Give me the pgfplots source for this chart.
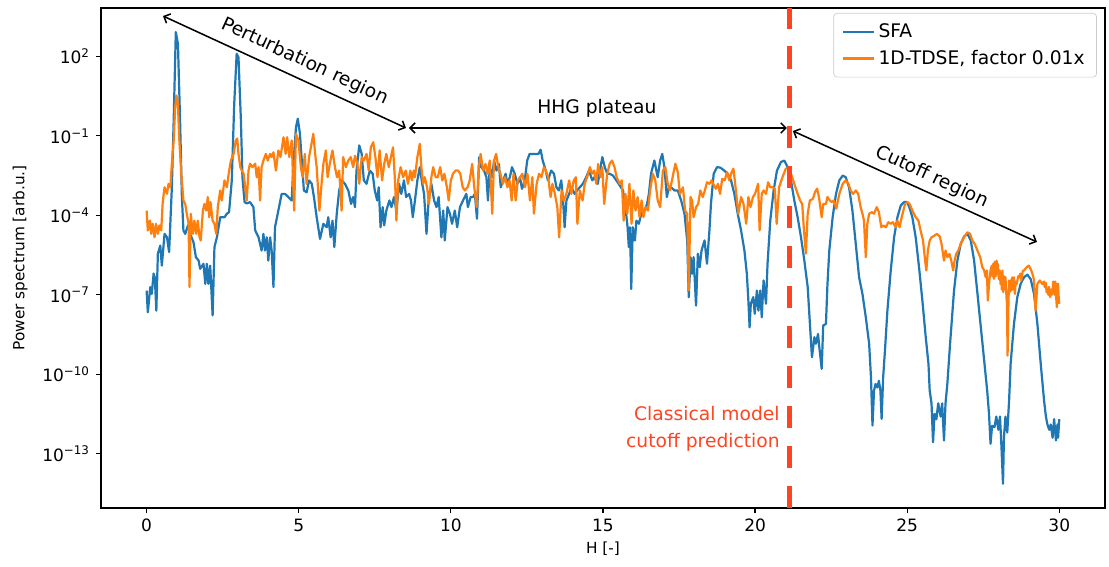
\documentclass[border=0pt]{standalone}
\usepackage{fontspec}
\setmainfont{DejaVu Sans}
\usepackage{pgfplots}
\pgfplotsset{compat=1.18}
\usepackage{pgfplotstable}
\usetikzlibrary{arrows.meta}
\definecolor{mplblue}{HTML}{1F77B4}
\definecolor{mplorange}{HTML}{FF7F0E}
\definecolor{cutred}{HTML}{FF4422}

% columns: x = harmonic order H, l = log10(power spectrum)
\pgfplotstableread{
x l
0.00 -6.84
0.04 -7.66
0.12 -6.71
0.17 -6.97
0.23 -6.2
0.27 -6.35
0.32 -7.6
0.37 -5.45
0.45 -5.14
0.50 -5.9
0.59 -4.7
0.67 -4.83
0.74 -5.39
0.83 -2.94
0.89 -0.42
0.96 2.92
1.03 2.48
1.10 -0.42
1.16 -3.31
1.21 -4.57
1.27 -4.7
1.36 -4.38
1.43 -4.7
1.54 -5.01
1.62 -5.58
1.71 -5.71
1.76 -6.02
1.87 -5.83
1.93 -6.59
1.98 -5.83
2.03 -6.59
2.09 -5.9
2.17 -7.78
2.23 -5.2
2.31 -4.83
2.42 -4.07
2.56 -4.07
2.64 -3.94
2.71 -3.88
2.80 -2.68
2.88 0.21
2.96 2.1
3.02 1.97
3.10 -0.42
3.15 -2.56
3.22 -3.5
3.29 -3.55
3.40 -3.5
3.51 -3.69
3.57 -4.57
3.68 -4.83
3.78 -5.33
3.84 -4.7
3.89 -5.33
3.95 -4.83
4.00 -5.71
4.06 -4.83
4.11 -5.33
4.17 -6.71
4.22 -4.45
4.33 -3.82
4.44 -3.19
4.55 -3.19
4.66 -3.31
4.77 -3.44
4.82 -2.18
4.91 -0.67
4.97 -0.35
5.04 -0.92
5.10 -1.93
5.17 -3.06
5.26 -3.13
5.34 -2.68
5.43 -2.81
5.50 -3.31
5.59 -4.07
5.70 -4.89
5.81 -4.32
5.92 -4.45
5.97 -4.07
6.05 -4.83
6.11 -4.2
6.17 -5.2
6.25 -3.94
6.33 -3.06
6.41 -2.68
6.52 -2.81
6.63 -3.06
6.72 -3.57
6.79 -3.31
6.85 -3.69
6.90 -2.31
6.99 -1.36
7.07 -1.68
7.14 -2.68
7.23 -2.81
7.28 -2.56
7.34 -2.31
7.43 -2.43
7.50 -3.06
7.58 -3.44
7.63 -2.94
7.69 -4.45
7.76 -3.69
7.81 -4.38
7.88 -3.82
7.98 -3.44
8.05 -3.69
8.13 -3.31
8.21 -3.82
8.30 -2.81
8.37 -3.19
8.46 -2.68
8.53 -3.31
8.63 -3.19
8.69 -3.44
8.75 -4.07
8.82 -3.44
8.90 -2.68
8.98 -2.18
9.06 -2.81
9.12 -3.19
9.20 -4.7
9.27 -3.44
9.36 -2.81
9.45 -3.44
9.53 -3.69
9.60 -3.31
9.69 -4.83
9.75 -3.82
9.80 -4.95
9.89 -3.69
9.97 -3.94
10.04 -4.32
10.13 -3.82
10.21 -4.45
10.30 -3.69
10.40 -3.44
10.51 -3.19
10.56 -3.69
10.65 -3.31
10.73 -3.31
10.79 -3.19
10.86 -4.13
10.93 -1.8
11.00 -2.18
11.09 -2.31
11.17 -2.56
11.22 -3.44
11.28 -2.18
11.36 -2.56
11.42 -1.93
11.50 -2.31
11.58 -2.06
11.64 -2.94
11.72 -2.68
11.80 -2.43
11.86 -2.81
11.94 -2.56
12.01 -2.18
12.10 -2.43
12.19 -2.81
12.27 -2.56
12.34 -3.0
12.43 -2.68
12.51 -1.93
12.59 -1.68
12.70 -1.68
12.80 -1.68
12.88 -1.68
12.95 -1.52
13.02 -1.93
13.12 -2.31
13.19 -2.68
13.30 -2.31
13.39 -2.43
13.47 -2.94
13.55 -3.06
13.63 -2.68
13.69 -3.44
13.74 -4.45
13.80 -3.44
13.89 -3.19
13.96 -2.94
14.07 -3.19
14.15 -3.06
14.24 -2.94
14.34 -2.81
14.45 -2.56
14.54 -2.31
14.65 -2.68
14.72 -2.56
14.83 -2.81
14.92 -2.18
14.98 -1.8
15.06 -2.18
15.14 -2.43
15.22 -2.43
15.33 -2.5
15.44 -2.68
15.55 -2.87
15.66 -3.06
15.75 -3.82
15.81 -4.45
15.85 -5.2
15.89 -4.45
15.93 -6.78
15.98 -4.45
16.05 -4.95
16.10 -4.2
16.18 -4.32
16.26 -3.94
16.37 -3.82
16.45 -3.57
16.51 -3.19
16.58 -2.43
16.69 -1.93
16.80 -2.56
16.88 -1.93
16.95 -1.68
17.02 -2.18
17.10 -3.31
17.17 -2.94
17.24 -2.94
17.35 -3.06
17.46 -3.06
17.57 -3.44
17.68 -3.94
17.77 -4.95
17.82 -7.09
17.88 -5.58
17.93 -6.21
17.98 -5.58
18.06 -7.41
18.12 -5.45
18.18 -5.96
18.24 -5.33
18.34 -4.95
18.42 -5.83
18.50 -4.57
18.55 -3.57
18.64 -2.43
18.75 -2.18
18.86 -2.2
18.99 -2.31
19.10 -2.43
19.21 -2.68
19.32 -3.19
19.43 -3.94
19.54 -4.57
19.65 -5.33
19.73 -6.21
19.78 -7.22
19.82 -8.23
19.86 -7.34
19.94 -7.09
19.99 -7.72
20.06 -6.84
20.11 -7.6
20.17 -6.84
20.22 -7.85
20.28 -6.46
20.36 -7.34
20.41 -5.83
20.50 -4.2
20.61 -3.06
20.72 -2.31
20.85 -1.99
20.96 -1.93
21.07 -2.18
21.18 -2.68
21.29 -3.44
21.40 -4.07
21.51 -4.83
21.62 -5.71
21.73 -6.71
21.81 -8.23
21.87 -9.36
21.95 -8.6
22.00 -8.85
22.07 -8.48
22.10 -8.85
22.19 -9.8
22.24 -8.16
22.33 -8.1
22.38 -6.59
22.44 -5.33
22.55 -4.07
22.66 -3.19
22.77 -2.68
22.88 -2.5
22.98 -2.56
23.09 -2.94
23.20 -3.82
23.31 -5.08
23.42 -6.34
23.53 -6.97
23.64 -7.85
23.75 -8.85
23.81 -10.12
23.86 -11.94
23.91 -10.62
23.96 -10.37
24.02 -10.5
24.07 -10.25
24.12 -10.62
24.16 -11.69
24.21 -10.12
24.27 -9.1
24.35 -7.6
24.46 -6.08
24.57 -4.83
24.68 -4.07
24.79 -3.63
24.90 -3.5
25.00 -3.5
25.07 -3.69
25.17 -4.07
25.28 -4.83
25.39 -5.96
25.50 -7.22
25.61 -8.6
25.70 -9.61
25.74 -10.62
25.80 -11.1
25.85 -12.57
25.90 -11.5
25.96 -11.7
26.02 -11.1
26.10 -11.6
26.15 -11.1
26.21 -12.5
26.26 -11.1
26.32 -10.37
26.41 -8.85
26.54 -6.84
26.65 -5.71
26.76 -5.08
26.87 -4.8
26.98 -4.7
27.09 -4.95
27.20 -5.71
27.30 -6.84
27.41 -8.1
27.52 -9.36
27.63 -10.62
27.69 -11.5
27.74 -12.63
27.79 -11.95
27.87 -12.0
27.93 -11.6
28.00 -12.1
28.05 -11.6
28.09 -12.5
28.15 -14.14
28.18 -12.4
28.23 -11.6
28.29 -12.2
28.35 -11.0
28.40 -9.61
28.51 -8.1
28.62 -7.09
28.73 -6.59
28.84 -6.34
28.95 -6.24
29.06 -6.41
29.17 -6.97
29.28 -8.1
29.39 -9.61
29.50 -11.0
29.56 -11.6
29.61 -11.9
29.67 -12.1
29.72 -11.9
29.78 -12.4
29.83 -11.7
29.89 -12.5
29.94 -11.9
29.96 -12.4
30.00 -11.7
}\sfa

\pgfplotstableread{
x l
0.00 -3.82
0.04 -4.57
0.11 -4.2
0.15 -4.7
0.20 -4.32
0.26 -4.83
0.31 -4.32
0.37 -4.7
0.42 -4.38
0.48 -4.57
0.53 -3.5
0.59 -2.94
0.67 -3.19
0.72 -2.81
0.78 -2.94
0.83 -2.05
0.89 -1.17
0.94 0.09
0.98 0.53
1.03 0.21
1.07 -1.05
1.14 -2.43
1.21 -3.44
1.27 -3.57
1.32 -3.94
1.38 -4.32
1.41 -6.71
1.45 -3.94
1.52 -4.7
1.57 -4.2
1.63 -4.7
1.68 -4.2
1.74 -4.83
1.78 -4.95
1.85 -3.82
1.90 -3.57
1.96 -3.82
2.01 -3.31
2.06 -4.07
2.10 -3.5
2.17 -4.2
2.23 -4.32
2.29 -4.7
2.34 -3.69
2.42 -3.06
2.47 -3.44
2.56 -2.68
2.64 -2.94
2.69 -2.49
2.77 -1.93
2.86 -1.68
2.93 -1.17
2.98 -1.1
3.02 -1.68
3.08 -2.18
3.13 -2.31
3.19 -2.43
3.24 -2.94
3.29 -3.44
3.35 -2.31
3.40 -2.05
3.48 -2.18
3.57 -2.05
3.62 -2.56
3.68 -2.18
3.73 -3.44
3.78 -2.18
3.84 -1.93
3.92 -1.68
3.98 -1.93
4.06 -1.68
4.11 -1.8
4.17 -1.62
4.25 -2.31
4.33 -1.55
4.40 -1.8
4.50 -1.05
4.57 -1.68
4.62 -1.05
4.69 -1.8
4.77 -1.17
4.85 -3.82
4.91 -0.92
4.99 -1.17
5.07 -2.18
5.13 -2.56
5.20 -1.68
5.26 -2.81
5.34 -1.8
5.40 -1.43
5.48 -0.92
5.54 -1.68
5.59 -2.18
5.68 -3.82
5.76 -2.68
5.81 -2.06
5.89 -1.55
5.95 -2.56
6.02 -2.06
6.11 -1.55
6.19 -2.18
6.26 -2.56
6.33 -2.31
6.41 -3.82
6.46 -1.8
6.55 -2.18
6.63 -1.93
6.71 -1.8
6.79 -2.18
6.85 -1.75
6.93 -2.06
6.99 -2.81
7.07 -1.8
7.14 -1.93
7.23 -1.68
7.30 -2.31
7.37 -1.43
7.45 -1.24
7.52 -1.8
7.59 -2.56
7.66 -1.55
7.74 -2.68
7.81 -2.06
7.88 -1.68
7.96 -2.18
8.03 -1.8
8.10 -1.43
8.17 -2.81
8.21 -4.2
8.27 -2.68
8.35 -2.18
8.43 -2.56
8.52 -2.31
8.59 -2.81
8.67 -2.31
8.72 -2.68
8.78 -2.31
8.82 -2.56
8.90 -1.8
8.98 -1.3
9.03 -2.18
9.09 -2.81
9.14 -2.56
9.22 -2.94
9.28 -3.57
9.36 -2.56
9.42 -2.18
9.50 -2.56
9.57 -2.56
9.65 -2.18
9.72 -2.68
9.79 -2.43
9.87 -2.94
9.93 -3.44
10.00 -2.68
10.07 -2.43
10.15 -2.31
10.24 -2.31
10.31 -2.43
10.39 -2.94
10.46 -3.06
10.55 -2.94
10.62 -2.68
10.70 -2.06
10.77 -2.94
10.85 -3.69
10.92 -2.18
10.98 -1.68
11.06 -2.31
11.14 -2.06
11.20 -2.43
11.28 -1.93
11.36 -3.94
11.42 -1.93
11.49 -1.68
11.56 -2.18
11.63 -2.43
11.71 -2.81
11.78 -2.56
11.86 -2.94
11.93 -2.68
12.00 -3.44
12.06 -2.43
12.13 -3.44
12.20 -2.68
12.28 -2.56
12.35 -2.43
12.44 -2.94
12.52 -2.43
12.60 -3.44
12.68 -2.56
12.73 -3.94
12.82 -2.81
12.90 -2.43
12.98 -2.56
13.06 -2.18
13.12 -2.31
13.20 -2.56
13.28 -3.31
13.34 -2.81
13.42 -3.19
13.50 -3.69
13.56 -4.83
13.64 -3.06
13.71 -3.44
13.80 -3.19
13.89 -2.68
13.96 -3.19
14.04 -2.68
14.11 -2.56
14.16 -4.32
14.24 -3.06
14.33 -3.44
14.40 -2.81
14.48 -2.56
14.57 -2.18
14.64 -2.43
14.71 -2.31
14.78 -2.81
14.84 -2.06
14.92 -2.56
14.98 -2.18
15.04 -3.57
15.14 -2.43
15.22 -2.06
15.30 -1.93
15.38 -2.18
15.45 -2.56
15.55 -2.81
15.62 -2.68
15.68 -4.2
15.74 -3.19
15.80 -3.94
15.87 -2.81
15.94 -4.32
16.00 -3.06
16.07 -3.82
16.14 -3.31
16.20 -4.07
16.27 -3.44
16.33 -4.07
16.40 -3.69
16.48 -3.82
16.55 -3.06
16.64 -2.43
16.72 -2.68
16.80 -3.44
16.88 -3.69
16.97 -2.31
17.05 -2.18
17.13 -2.81
17.20 -3.06
17.29 -2.56
17.38 -2.05
17.46 -2.37
17.53 -3.19
17.63 -2.94
17.70 -3.82
17.77 -3.94
17.82 -6.84
17.88 -3.31
17.93 -3.44
17.98 -4.07
18.06 -3.69
18.13 -3.57
18.20 -3.06
18.28 -3.31
18.35 -3.06
18.42 -2.75
18.50 -2.81
18.57 -2.68
18.65 -2.87
18.71 -3.0
18.78 -2.81
18.85 -3.19
18.92 -2.62
19.00 -2.68
19.08 -2.37
19.15 -2.68
19.23 -2.37
19.29 -2.24
19.37 -3.06
19.45 -3.94
19.54 -3.31
19.62 -3.57
19.71 -4.32
19.78 -3.31
19.85 -3.69
19.93 -3.31
20.00 -3.19
20.10 -2.81
20.15 -4.57
20.22 -3.19
20.28 -3.06
20.36 -3.19
20.43 -2.75
20.50 -2.94
20.57 -2.94
20.65 -3.0
20.71 -4.32
20.79 -2.94
20.90 -2.56
21.01 -2.24
21.09 -2.18
21.18 -2.43
21.29 -2.81
21.40 -3.19
21.48 -3.44
21.55 -3.57
21.60 -4.45
21.67 -5.45
21.73 -3.94
21.80 -3.44
21.90 -3.38
21.97 -3.12
22.04 -2.99
22.10 -3.31
22.19 -4.07
22.24 -3.57
22.33 -3.57
22.38 -3.31
22.46 -3.44
22.52 -3.5
22.59 -3.44
22.67 -3.75
22.77 -3.19
22.88 -2.81
22.98 -2.68
23.07 -2.81
23.14 -3.06
23.22 -3.19
23.31 -3.06
23.39 -3.19
23.47 -3.69
23.53 -3.94
23.58 -4.2
23.64 -5.58
23.69 -4.32
23.75 -3.94
23.84 -3.88
23.91 -3.94
24.00 -3.69
24.07 -3.88
24.15 -4.45
24.22 -4.38
24.30 -4.45
24.38 -4.26
24.46 -4.32
24.53 -4.26
24.62 -4.45
24.68 -4.2
24.75 -4.45
24.82 -4.07
24.93 -3.57
25.01 -3.5
25.08 -3.57
25.17 -3.82
25.28 -4.07
25.37 -4.2
25.44 -4.57
25.52 -4.95
25.59 -5.71
25.63 -6.08
25.68 -5.33
25.74 -4.95
25.80 -4.83
25.89 -4.77
25.98 -4.7
26.07 -4.8
26.13 -5.08
26.21 -5.71
26.26 -5.33
26.32 -5.58
26.39 -5.46
26.45 -5.71
26.51 -6.08
26.56 -5.71
26.61 -5.46
26.68 -5.33
26.76 -5.08
26.87 -4.83
26.98 -4.64
27.07 -4.7
27.14 -4.95
27.22 -5.08
27.31 -5.33
27.40 -5.58
27.47 -5.96
27.53 -6.08
27.58 -6.34
27.62 -6.08
27.65 -7.22
27.70 -6.46
27.74 -6.08
27.78 -5.9
27.80 -6.3
27.83 -5.83
27.85 -6.4
27.88 -5.75
27.91 -6.3
27.94 -5.71
27.96 -6.2
27.98 -5.83
28.01 -6.4
28.04 -6.08
28.07 -6.6
28.09 -6.2
28.11 -6.8
28.13 -6.08
28.16 -6.9
28.18 -6.3
28.21 -6.8
28.23 -6.34
28.26 -7.0
28.28 -7.34
28.30 -9.3
28.33 -7.22
28.35 -6.46
28.37 -6.9
28.40 -6.46
28.42 -6.84
28.45 -6.34
28.48 -6.8
28.51 -6.34
28.54 -6.97
28.57 -6.5
28.60 -6.59
28.65 -6.3
28.68 -6.34
28.72 -6.2
28.75 -6.46
28.80 -6.1
28.84 -6.08
28.93 -5.96
29.00 -5.9
29.08 -6.08
29.14 -6.3
29.17 -6.46
29.22 -7.6
29.28 -6.59
29.36 -6.46
29.44 -6.59
29.50 -6.5
29.52 -6.71
29.56 -6.55
29.58 -6.9
29.61 -6.84
29.64 -7.0
29.66 -6.7
29.70 -7.09
29.73 -6.8
29.76 -7.0
29.78 -6.84
29.80 -6.5
29.83 -6.59
29.85 -7.0
29.87 -6.5
29.89 -6.97
29.92 -7.47
29.94 -6.6
29.96 -6.59
29.98 -7.1
30.00 -7.34
}\tdse

\begin{document}
\begin{tikzpicture}
\begin{axis}[
  scale only axis,
  width=590.6pt, height=294.1pt,
  xmin=-1.5, xmax=31.5,
  ymode=log, ymin=8.9e-16, ymax=6.76e3,
  xtick={0,5,10,15,20,25,30},
  ytick={1e-13,1e-10,1e-7,1e-4,1e-1,1e2},
  yticklabels={10\textsuperscript{−13},10\textsuperscript{−10},10\textsuperscript{−7},10\textsuperscript{−4},10\textsuperscript{−1},10\textsuperscript{2}},
  minor tick num=0,
  tick pos=left,
  tick align=outside,
  major tick length=3pt,
  tick style={line width=0.7pt, black},
  axis line style={line width=0.7pt},
  /pgf/number format/assume math mode=true,
  ticklabel style={font=\fontsize{10}{12}\selectfont},
  xlabel={H [-]},
  ylabel={Power spectrum [arb.u.]},
  xlabel style={font=\fontsize{9}{11}\selectfont, at={([yshift=-24.1pt]rel axis cs:0.5,0)}, anchor=center},
  ylabel style={font=\fontsize{9}{11}\selectfont, at={([xshift=-47.6pt]rel axis cs:0,0.5)}, anchor=center},
  legend style={at={(rel axis cs:0.992,0.99)}, anchor=north east,
    draw=black!20, rounded corners=2pt, fill=white, fill opacity=0.8, text opacity=1,
    font=\fontsize{11}{13}\selectfont, inner xsep=5pt, inner ysep=4pt, row sep=2pt,
    cells={anchor=west}},
  legend image code/.code={\draw[#1, line width=1.3pt] (0pt,0pt) -- (18pt,0pt);},
]
\addplot[mplblue, line width=1.3pt, line join=round] table[x=x, y expr=10^(\thisrow{l})] {\sfa};
\addlegendentry{SFA}
\addplot[mplorange, line width=1.3pt, line join=round] table[x=x, y expr=10^(\thisrow{l})] {\tdse};
\addlegendentry{1D-TDSE, factor 0.01x}
\addplot[cutred, line width=3pt, dash pattern=on 13pt off 10.5pt, forget plot] coordinates {(21.13,8.9e-16) (21.13,6.76e3)};

\draw[line width=0.9pt, {Straight Barb[length=3pt,width=6pt]}-{Straight Barb[length=3pt,width=6pt]}] (rel axis cs:0.0618,0.984) -- (rel axis cs:0.3038,0.76);
\draw[line width=0.9pt, {Straight Barb[length=3pt,width=6pt]}-{Straight Barb[length=3pt,width=6pt]}] (rel axis cs:0.3068,0.76) -- (rel axis cs:0.6833,0.76);
\draw[line width=0.9pt, {Straight Barb[length=3pt,width=6pt]}-{Straight Barb[length=3pt,width=6pt]}] (rel axis cs:0.6892,0.754) -- (rel axis cs:0.9323,0.532);
\node[rotate=-24.7, font=\fontsize{11}{13}\selectfont] at (rel axis cs:0.2030,0.893) {Perturbation region};
\node[font=\fontsize{11}{13}\selectfont] at (rel axis cs:0.494,0.8) {HHG plateau};
\node[rotate=-24.6, font=\fontsize{11}{13}\selectfont] at (rel axis cs:0.8277,0.662) {Cutoff region};
\node[cutred, align=right, anchor=east, font=\fontsize{11}{16}\selectfont] at (rel axis cs:0.682,0.158) {Classical model\\cutoff prediction};
\end{axis}
\pgfresetboundingbox
\path ([xshift=-59.4pt,yshift=-34.7pt]current axis.south west) rectangle ([xshift=2.4pt,yshift=4.7pt]current axis.north east);
\end{tikzpicture}
\end{document}
